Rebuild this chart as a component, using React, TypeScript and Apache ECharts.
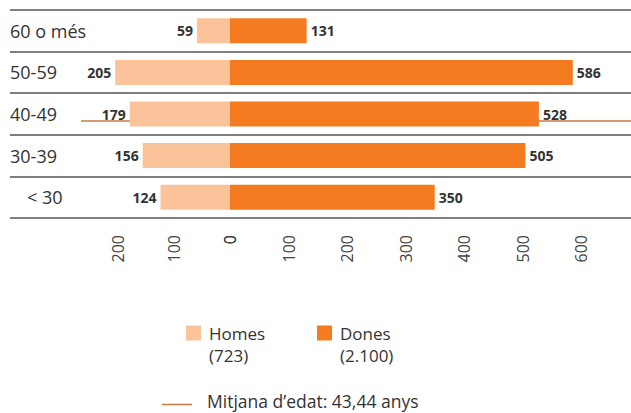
import React, { useEffect, useRef } from "react";
import * as echarts from "echarts";

const categories = ["60 o més", "50-59", "40-49", "30-39", "< 30"];
const homes = [59, 205, 179, 156, 124];
const dones = [131, 586, 528, 505, 350];
const homesTotal = "723";
const donesTotal = "2.100";
const meanAge = 43.44;
const meanLabel = "Mitjana d’edat: 43,44 anys";
const ageRange = [20, 70];
const homesMax = 200;
const donesMax = 600;
const tickStep = 100;

const FONT = "Open Sans";
const C_HOMES = "#FBC39A";
const C_DONES = "#F47B20";
const C_MEAN = "#C9783E";
const C_TEXT = "#333333";

export default function App() {
  const ref = useRef<HTMLDivElement>(null);
  useEffect(() => {
    if (!ref.current) return;
    const chart = echarts.init(ref.current, undefined, { renderer: "svg" });
    const top = 10;
    const bottom = 195;
    const valueLabel = {
      show: true,
      fontFamily: FONT,
      fontWeight: "bold" as const,
      fontSize: 14,
      color: C_TEXT,
      distance: 4,
    };
    const tickLabel = {
      rotate: 90,
      fontFamily: FONT,
      fontSize: 16,
      color: "#444",
      margin: 17,
    };
    const legendText = {
      fontFamily: FONT,
      fontSize: 17,
      color: C_TEXT,
      lineHeight: 22,
      padding: [0, 0, 0, 3],
    };
    chart.setOption({
      animation: false,
      textStyle: { fontFamily: FONT },
      grid: [
        { left: 10, right: 0, top, bottom },
        { left: 118, width: 112, top, bottom },
        { left: 230, width: 351, top, bottom },
        { left: 81, right: 0, top, bottom },
      ],
      xAxis: [
        { gridIndex: 0, type: "value", show: false, min: 0, max: 1 },
        {
          gridIndex: 1,
          type: "value",
          inverse: true,
          min: 0,
          max: homesMax,
          interval: tickStep,
          showMinLabel: false,
          axisLine: { show: false },
          axisTick: { show: false },
          splitLine: { show: false },
          axisLabel: tickLabel,
        },
        {
          gridIndex: 2,
          type: "value",
          min: 0,
          max: donesMax,
          interval: tickStep,
          axisLine: { show: false },
          axisTick: { show: false },
          splitLine: { show: false },
          axisLabel: tickLabel,
        },
        { gridIndex: 3, type: "value", show: false, min: 0, max: 1 },
      ],
      yAxis: [
        {
          gridIndex: 0,
          type: "category",
          data: categories,
          inverse: true,
          axisLine: { show: false },
          axisTick: { show: false },
          splitLine: {
            show: true,
            interval: 0,
            lineStyle: { color: "#555", width: 1.5 },
          },
          axisLabel: {
            inside: true,
            margin: 0,
            interval: 0,
            fontFamily: FONT,
            fontSize: 18,
            color: C_TEXT,
            formatter: (v: string) => (v === "< 30" ? `{ind|${v}}` : `{n|${v}}`),
            rich: {
              n: { fontFamily: FONT, fontSize: 18, color: C_TEXT },
              ind: { fontFamily: FONT, fontSize: 18, color: C_TEXT, padding: [0, 0, 0, 17] },
            },
          },
        },
        { gridIndex: 1, type: "category", data: categories, inverse: true, show: false },
        { gridIndex: 2, type: "category", data: categories, inverse: true, show: false },
        { gridIndex: 3, type: "value", min: ageRange[0], max: ageRange[1], show: false },
      ],
      legend: [
        {
          data: ["Homes"],
          left: 186,
          top: 300,
          padding: 0,
          itemWidth: 15,
          itemHeight: 15,
          icon: "rect",
          formatter: (n: string) => `\n${n}\n(${homesTotal})`,
          textStyle: legendText,
        },
        {
          data: ["Dones"],
          left: 317,
          top: 300,
          padding: 0,
          itemWidth: 15,
          itemHeight: 15,
          icon: "rect",
          formatter: (n: string) => `\n${n}\n(${donesTotal})`,
          textStyle: legendText,
        },
        {
          data: [
            {
              name: meanLabel,
              icon: "path://M0,0L0,0Z M0,7L30,7L30,8.5L0,8.5Z",
            },
          ],
          left: 162,
          top: 392,
          padding: 0,
          itemWidth: 30,
          itemHeight: 8.5,
          textStyle: {
            fontFamily: FONT,
            fontSize: 17.5,
            lineHeight: 18,
            color: C_TEXT,
            padding: [0, 0, 0, 10],
          },
        },
      ],
      series: [
        {
          name: meanLabel,
          type: "line",
          xAxisIndex: 3,
          yAxisIndex: 3,
          data: [],
          z: 0,
          color: C_MEAN,
          itemStyle: { color: C_MEAN },
          lineStyle: { color: C_MEAN },
          markLine: {
            silent: true,
            symbol: "none",
            z: 0,
            label: { show: false },
            lineStyle: { color: C_MEAN, width: 1.5, type: "solid" },
            data: [{ yAxis: meanAge }],
          },
        },
        {
          name: "Homes",
          type: "bar",
          xAxisIndex: 1,
          yAxisIndex: 1,
          data: homes,
          barWidth: 25,
          clip: false,
          z: 10,
          itemStyle: { color: C_HOMES },
          label: { ...valueLabel, position: "left" },
        },
        {
          name: "Dones",
          type: "bar",
          xAxisIndex: 2,
          yAxisIndex: 2,
          data: dones,
          barWidth: 25,
          z: 10,
          itemStyle: { color: C_DONES },
          label: { ...valueLabel, position: "right" },
        },
      ],
    });
    return () => chart.dispose();
  }, []);
  return (
    <div
      ref={ref}
      style={{ position: "absolute", left: 0, top: 0, width: 631, height: 413, background: "#fff" }}
    />
  );
}
